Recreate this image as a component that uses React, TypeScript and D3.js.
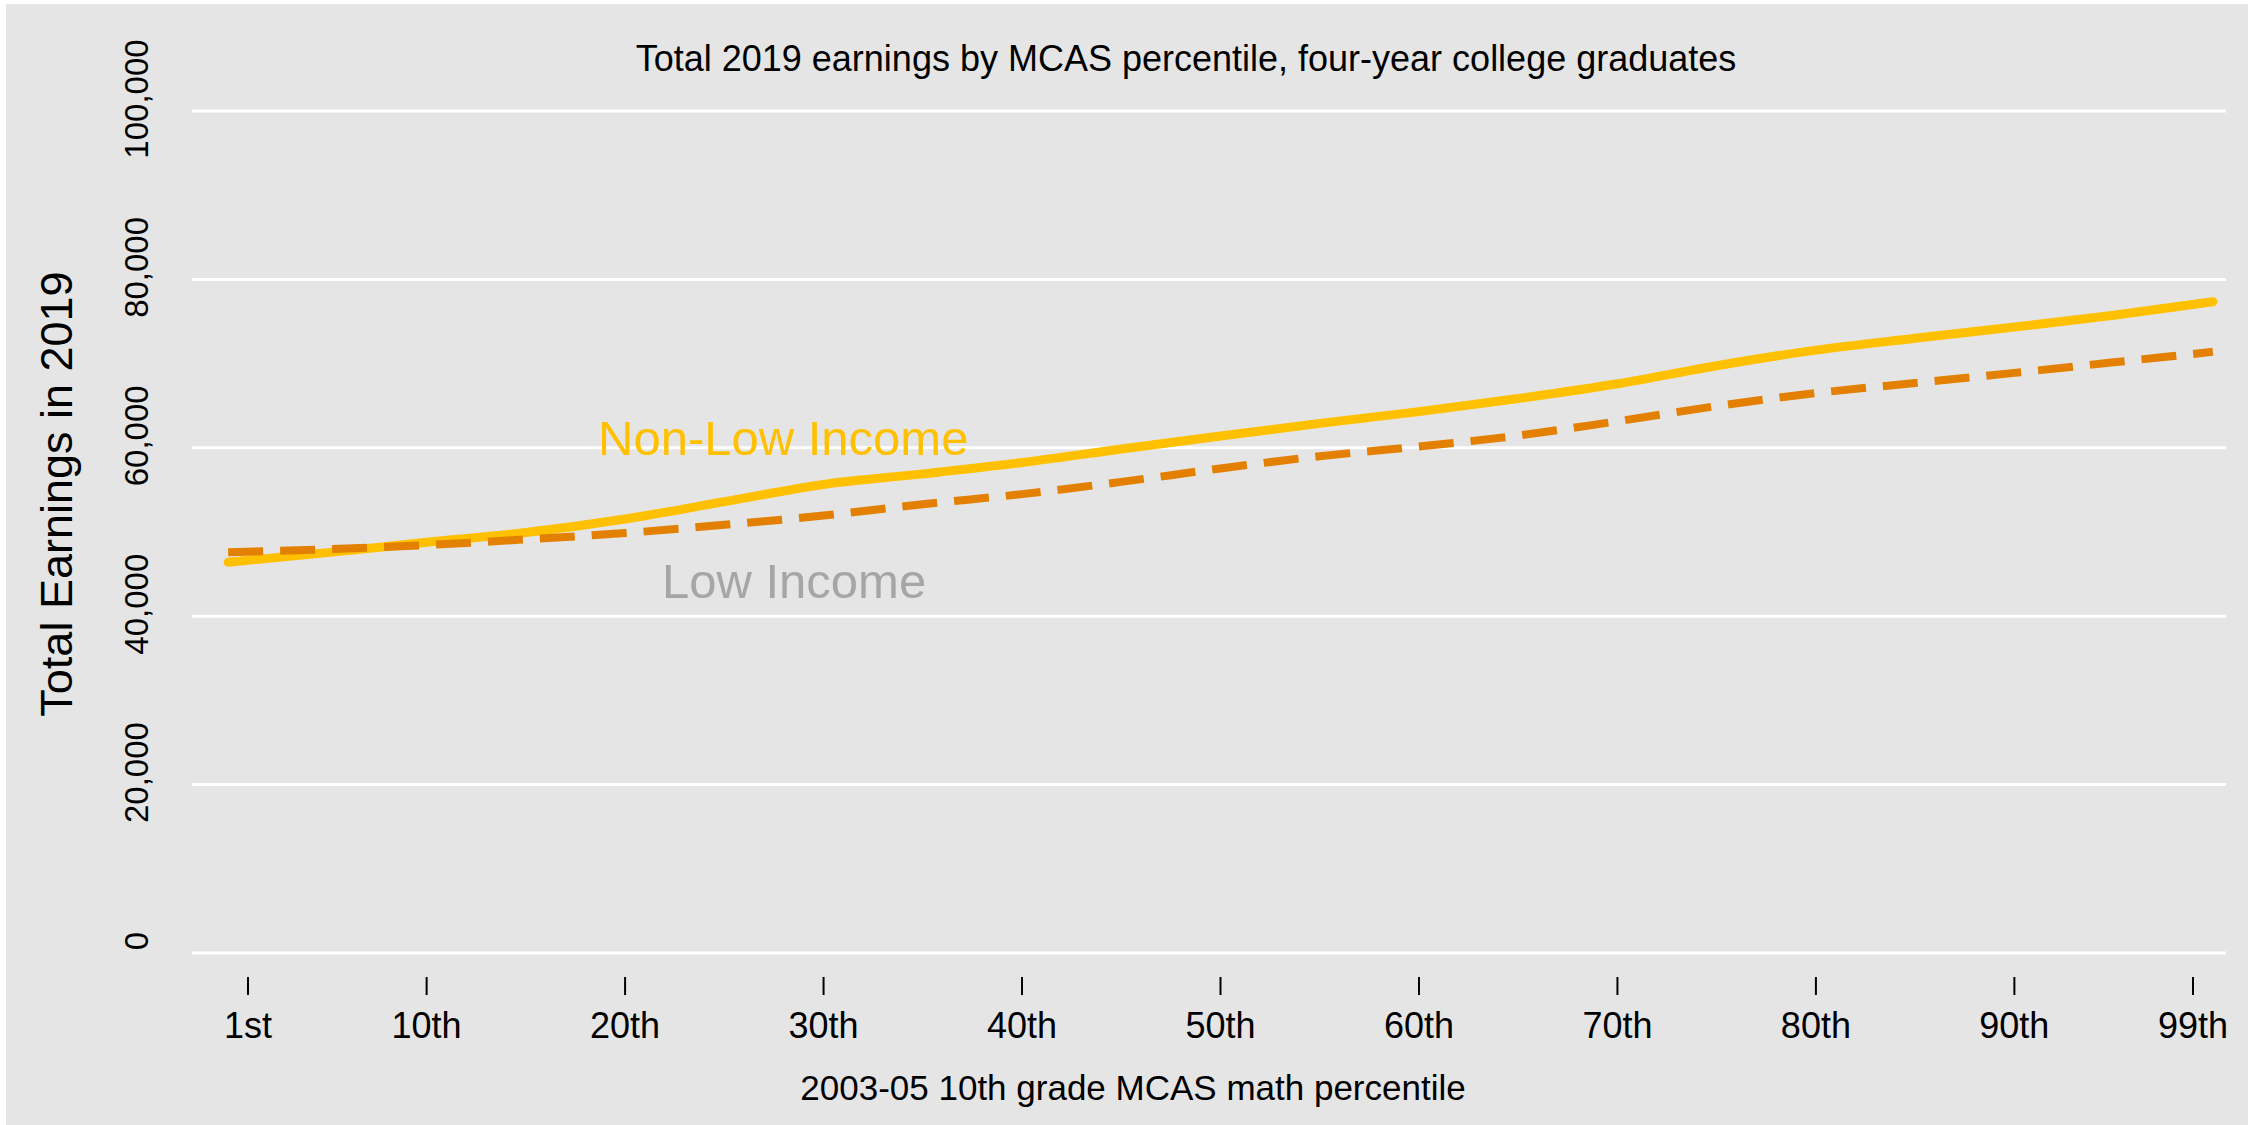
import React from "react";
import * as d3 from "d3";

const percentiles = [0, 5, 10, 15, 20, 25, 30, 35, 40, 45, 50, 55, 60, 65, 70, 75, 80, 85, 90, 95, 100];
const nonLowIncome = [46400, 47550, 48780, 49950, 51550, 53600, 55650, 56900, 58250, 59850, 61400, 62900, 64300, 65850, 67600, 69750, 71600, 73000, 74350, 75750, 77350];
const lowIncome = [47600, 47950, 48450, 49120, 49880, 50850, 51950, 53300, 54500, 55950, 57550, 59000, 60150, 61450, 63150, 64950, 66500, 67700, 68900, 70150, 71400];
const xTickValues = [1, 10, 20, 30, 40, 50, 60, 70, 80, 90, 99];
const xTickLabels = ["1st", "10th", "20th", "30th", "40th", "50th", "60th", "70th", "80th", "90th", "99th"];
const yTickValues = [0, 20000, 40000, 60000, 80000, 100000];

const W = 2248;
const H = 1125;
const FONT = "'Liberation Sans', Arial, sans-serif";

export default function App() {
  const x = d3.scaleLinear().domain([1, 99]).range([248, 2193]);
  const y = d3.scaleLinear().domain([0, 100000]).range([953, 111]);
  const plotLeft = 192;
  const plotRight = 2226;

  const line = d3
    .line<number>()
    .x((_, i) => x(percentiles[i]))
    .y((d) => y(d))
    .curve(d3.curveMonotoneX);

  const fmt = d3.format(",");

  return (
    <svg
      width={W}
      height={H}
      style={{ position: "absolute", left: 0, top: 0, display: "block" }}
      fontFamily={FONT}
    >
      <rect x={0} y={0} width={W} height={H} fill="#ffffff" />
      <rect x={6} y={4} width={W - 6} height={H - 4} fill="#E5E5E5" />

      {yTickValues.map((v) => (
        <line key={"g" + v} x1={plotLeft} x2={plotRight} y1={y(v)} y2={y(v)} stroke="#ffffff" strokeWidth={3} />
      ))}

      {yTickValues.map((v) => (
        <text
          key={"yl" + v}
          transform={`translate(${148},${y(v) - 12}) rotate(-90)`}
          textAnchor="middle"
          fontSize={33}
          fill="#000"
        >
          {fmt(v)}
        </text>
      ))}

      {xTickValues.map((p, i) => (
        <g key={"xt" + p}>
          <line x1={x(p)} x2={x(p)} y1={977} y2={995} stroke="#000" strokeWidth={2} />
          <text x={x(p)} y={1038} textAnchor="middle" fontSize={36} fill="#000">
            {xTickLabels[i]}
          </text>
        </g>
      ))}

      <path d={line(nonLowIncome) || ""} fill="none" stroke="#FFC000" strokeWidth={9} strokeLinecap="round" strokeLinejoin="round" />
      <path d={line(lowIncome) || ""} fill="none" stroke="#E38000" strokeWidth={8} strokeDasharray="35 17" />

      <text x={598} y={455} fontSize={49} fill="#FFC000">Non-Low Income</text>
      <text x={662} y={598} fontSize={49} fill="#A6A6A6">Low Income</text>

      <text x={1186} y={71} textAnchor="middle" fontSize={36} fill="#000">
        Total 2019 earnings by MCAS percentile, four-year college graduates
      </text>
      <text x={1133} y={1100} textAnchor="middle" fontSize={35} fill="#000">
        2003-05 10th grade MCAS math percentile
      </text>
      <text transform={`translate(72,494) rotate(-90)`} textAnchor="middle" fontSize={45} fill="#000">
        Total Earnings in 2019
      </text>
    </svg>
  );
}
